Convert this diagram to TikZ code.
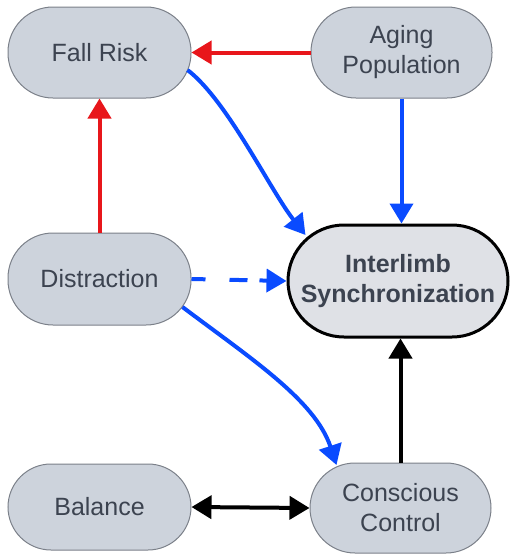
\documentclass[tikz,border=0pt]{standalone}
\usepackage{fontspec}
\setmainfont{Liberation Sans}
\usetikzlibrary{arrows.meta,calc}
\definecolor{nodefill}{HTML}{CDD3DC}
\definecolor{mainfill}{HTML}{DFE1E6}
\definecolor{nodeborder}{HTML}{7B8089}
\definecolor{txt}{HTML}{3C4350}
\definecolor{redarrow}{HTML}{E8161B}
\definecolor{bluearrow}{HTML}{0A4BFF}
\tikzset{
  pill/.style={draw=nodeborder, line width=1pt, fill=nodefill, text=txt,
    rounded corners=45pt, minimum width=183pt, minimum height=91pt,
    align=center, inner sep=0pt,
    font=\fontsize{25}{30}\selectfont},
  mainpill/.style={pill, draw=black, line width=3pt, fill=mainfill,
    rounded corners=56pt, minimum width=220pt, minimum height=112pt,
    font=\fontsize{25}{30}\selectfont\bfseries},
  tip/.style={-{Triangle[length=20pt,width=23pt]}},
  redline/.style={tip, draw=redarrow, line width=4pt},
  blueline/.style={tip, draw=bluearrow, line width=4pt},
  blackline/.style={tip, draw=black, line width=4pt},
}
\begin{document}
\begin{tikzpicture}[x=1pt,y=-1pt]
\useasboundingbox (0,0) rectangle (512,554);
\node[pill] (FR) at (99.5,52.5) {Fall Risk};
\node[pill, minimum width=181pt] (AP) at (401.5,52.5) {Aging\\Population};
\node[pill, minimum height=92pt] (DI) at (99.5,279) {Distraction};
\node[mainpill] (IS) at (398,281) {Interlimb\\Synchronization};
\node[pill, minimum height=86pt, rounded corners=43pt] (BA) at (99.5,507) {Balance};
\node[pill, minimum width=181pt, minimum height=90pt] (CC) at (400.5,508) {Conscious\\Control};

\draw[redline] (AP.west) -- (FR.east);
\draw[redline] (DI.north) -- (FR.south);
\draw[blueline] (AP.south) -- (AP.south |- IS.north);
\draw[blackline] (CC.north) -- (CC.north |- IS.south);
\draw[blackline, {Triangle[length=20pt,width=23pt]}-{Triangle[length=20pt,width=23pt]}] (BA.east) -- (CC.west);
\draw[blueline, dash pattern=on 14pt off 24pt on 18pt off 12pt] (DI.east) -- (IS.west);
\draw[blueline] ($(FR.east)+(-4,17.5)$) .. controls (227,100) and (270,190) .. ($(IS.west)+(19,-46)$);
\draw[blueline] ($(DI.east)+(-9,28)$) .. controls (250,358) and (315,400) .. ($(CC.west)+(27,-43)$);
\end{tikzpicture}
\end{document}
